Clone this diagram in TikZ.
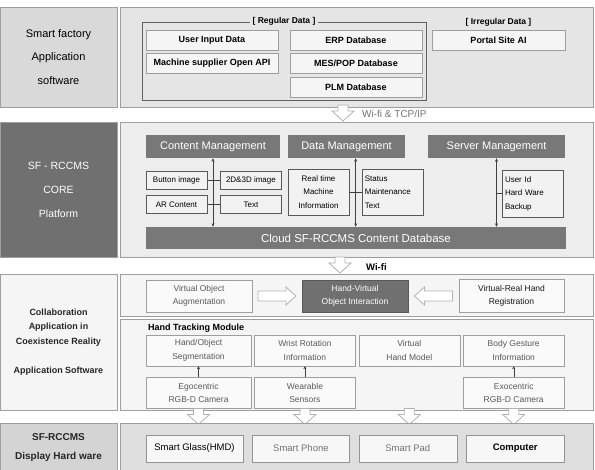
\documentclass[tikz,border=0pt]{standalone}
\usepackage{fontspec}
\setmainfont{Liberation Sans}
\usepackage{tikz}
\usetikzlibrary{arrows.meta,positioning,calc}
\definecolor{frameline}{gray}{0.62}
\definecolor{darkpanel}{gray}{0.44}
\definecolor{hdrfill}{gray}{0.47}

\begin{document}
\begin{tikzpicture}[x=1pt,y=-1pt,node distance=3pt and 3pt,
  every node/.style={inner sep=0pt,font=\fontsize{8.5}{13.5}\selectfont},
  panel/.style={draw=frameline,line width=0.9pt,fill=#1},
  side/.style={panel=#1,align=center,minimum width=117pt},
  hdr/.style={fill=hdrfill,text=white,minimum height=23pt,font=\fontsize{11}{13}\selectfont},
  rowone/.style={draw=black!38,fill=black!4,minimum width=132pt,minimum height=20pt,font=\bfseries\fontsize{9}{11}\selectfont},
  cbox/.style={draw=black!65,fill=black!5,minimum width=61pt,minimum height=18pt,align=center,font=\fontsize{8}{13.5}\selectfont},
  tbox/.style={draw=black!38,fill=black!2,text=black!65,align=center,minimum width=101pt,minimum height=31pt},
  dev/.style={draw=black!42,fill=black!3,minimum width=97pt,minimum height=27pt,font=\fontsize{9.5}{11}\selectfont},
  arr/.style={-{Stealth[length=3pt,width=3pt]},draw=black!75},
  dbl/.style={{Stealth[length=3.5pt,width=3pt]}-{Stealth[length=3.5pt,width=3pt]},draw=black!75,line width=0.6pt},
  harrow/.style={draw=black!30,fill=white,line width=0.8pt},
  hdown/.pic={\draw[harrow] (-5,0) -- (5,0) -- (5,6) -- (11,6) -- (0,16) -- (-11,6) -- (-5,6) -- cycle;},
  hright/.pic={\draw[harrow] (-19,-5) -- (9,-5) -- (9,-9) -- (19,0) -- (9,9) -- (9,5) -- (-19,5) -- cycle;}]
\useasboundingbox (0,0) rectangle (595,470);

% application software
\node[side=black!15,minimum height=100pt,font=\fontsize{11}{23.5}\selectfont] (sfapp) at (58.5,57) {Smart factory\\Application\\software};
\node[panel=black!10,minimum width=473pt,minimum height=100pt] (apppanel) at (356.5,57) {};
\node[draw=black!62,line width=0.8pt,minimum width=284pt,minimum height=78pt] (regular) at (284,61) {};
\node[fill=black!10,inner xsep=3pt,font=\bfseries\fontsize{8.5}{10}\selectfont] (regtitle) at (regular.north) {[ Regular Data ]};
\node[font=\bfseries\fontsize{8.5}{10}\selectfont] (irrtitle) at (498.5,22) {[ Irregular Data ]};
\node[rowone] (user) at (212,40) {User Input Data};
\node[rowone,below=of user] (openapi) {Machine supplier Open API};
\node[rowone] (erp) at (356,40) {ERP Database};
\node[rowone,below=of erp] (mes) {MES/POP Database};
\node[rowone,below=of mes] (plm) {PLM Database};
\node[rowone,minimum width=133pt] (portal) at (498.5,40) {Portal Site AI};
\pic at (343,105) {hdown};
\node[anchor=west,text=black!55,font=\fontsize{10}{12}\selectfont] (tcpip) at (362,114) {Wi-fi \& TCP/IP};

% core platform
\node[side=darkpanel,text=white,minimum height=135pt,font=\fontsize{10.5}{24}\selectfont] (core) at (58.5,189.5) {SF - RCCMS\\CORE\\Platform};
\node[panel=black!7,minimum width=473pt,minimum height=135pt] (corepanel) at (356.5,189.5) {};
\node[hdr,minimum width=134pt] (content) at (213,146.5) {Content Management};
\node[hdr,minimum width=117pt] (datamgmt) at (346.5,146.5) {Data Management};
\node[hdr,minimum width=137pt] (server) at (496.5,146.5) {Server Management};
\node[hdr,minimum width=420pt,minimum height=22pt,font=\fontsize{11.5}{13}\selectfont] (cloud) at (356,238) {Cloud SF-RCCMS Content Database};
\node[cbox] (btn) at (176.5,180) {Button image};
\node[cbox,right=13pt of btn] (img) {2D\&3D image};
\node[cbox,below=6pt of btn] (arc) {AR Content};
\node[cbox,below=6pt of img] (txt) {Text};
\draw[black!75] (btn) -- (img);
\draw[black!75] (arc) -- (txt);
\draw[dbl] (content.south) -- (content.south |- cloud.north);
\node[cbox,minimum height=46pt] (realtime) at (318.5,192) {Real time\\Machine\\Information};
\node[cbox,right=13pt of realtime,text width=56pt,inner xsep=2pt,align=left,minimum height=46pt] (status) {Status\\Maintenance\\Text};
\coordinate (datax) at ($(realtime.east)!0.5!(status.west)$);
\draw[black!75] (realtime) -- (status);
\draw[dbl] (datax |- datamgmt.south) -- (datax |- cloud.north);
\node[cbox,text width=56pt,inner xsep=2pt,align=left,minimum height=47pt] (userid) at (533,193.5) {User Id\\Hard Ware\\Backup};
\draw[dbl] (server.south) -- (server.south |- cloud.north);
\draw[black!75] (userid.west) -- (userid.west -| server.south);
\pic at (340,257) {hdown};
\node[anchor=west,font=\bfseries\fontsize{9.5}{11}\selectfont] (wifi) at (366,267) {Wi-fi};

% coexistence reality application
\node[side=black!4,minimum height=136pt,text=black!85,font=\bfseries\fontsize{9}{14.5}\selectfont] (collab) at (58.5,342) {Collaboration\\Application in\\Coexistence Reality\\[14.5pt]Application Software};
\node[panel=black!4,minimum width=473pt,minimum height=42pt] (interpanel) at (356.5,295) {};
\node[panel=black!4,minimum width=473pt,minimum height=91pt] (trackpanel) at (356.5,364.5) {};
\node[tbox,minimum width=106pt,minimum height=32pt] (augment) at (199,296) {Virtual Object\\Augmentation};
\node[draw=black!65,fill=darkpanel,text=white,align=center,minimum width=106pt,minimum height=32pt] (interact) at (355,296) {Hand-Virtual\\Object Interaction};
\node[tbox,text=black!90,minimum width=105pt,minimum height=33pt] (regist) at (511.5,296) {Virtual-Real Hand\\Registration};
\pic at ($(augment.east)!0.5!(interact.west)$) {hright};
\pic[xscale=-1] at ($(interact.east)!0.5!(regist.west)$) {hright};
\node[anchor=west,font=\bfseries\fontsize{9}{11}\selectfont] (htm) at (148,328) {Hand Tracking Module};
\node[tbox,minimum width=105pt] (handseg) at (198.5,350.5) {Hand/Object\\Segmentation};
\node[tbox,right=of handseg] (wrist) {Wrist Rotation\\Information};
\node[tbox,right=of wrist] (handmodel) {Virtual\\Hand Model};
\node[tbox,right=of handmodel] (gesture) {Body Gesture\\Information};
\node[tbox,minimum width=105pt,below=11pt of handseg] (egocam) {Egocentric\\RGB-D Camera};
\node[tbox,below=11pt of wrist] (wearable) {Wearable\\Sensors};
\node[tbox,below=11pt of gesture] (exocam) {Exocentric\\RGB-D Camera};
\draw[arr] (egocam) -- (handseg);
\draw[arr] (wearable) -- (wrist);
\draw[arr] (exocam) -- (gesture);
\foreach \n in {egocam,wearable,handmodel,exocam}
  \pic at ($(\n.south |- trackpanel.south)+(0,-2)$) {hdown};

% display hardware
\node[side=black!17,minimum height=49pt,text=black!85,font=\bfseries\fontsize{10}{19}\selectfont] (display) at (58.5,447.5) {SF-RCCMS\\Display Hard ware};
\node[panel=black!13,minimum width=473pt,minimum height=49pt] (hwpanel) at (356.5,447.5) {};
\node[dev] (glass) at (194.5,448.5) {Smart Glass(HMD)};
\node[dev,text=black!55,right=9pt of glass] (phone) {Smart Phone};
\node[dev,text=black!55,minimum width=98pt,right=9pt of phone] (pad) {Smart Pad};
\node[dev,minimum width=98pt,right=9pt of pad,font=\bfseries\fontsize{9.5}{11}\selectfont] (computer) {Computer};
\end{tikzpicture}
\end{document}
